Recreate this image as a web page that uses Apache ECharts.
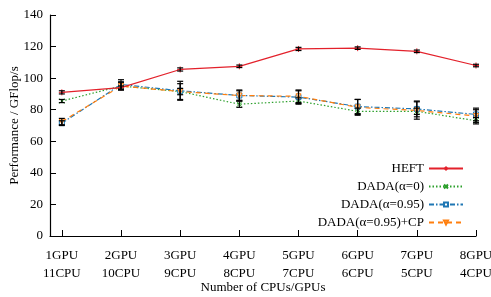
<!DOCTYPE html>
<html lang="en">
<head>
    <meta charset="UTF-8">
    <title>Performance</title>
    <script src="https://cdn.jsdelivr.net/npm/echarts@6/dist/echarts.min.js"></script>
    <style>
        body { margin: 0; padding: 0; background: #fff; }
        #box { width: 491px; height: 297px; }
    </style>
</head>
<body>
<div id="box"></div>
<script>
    // configurations (x positions 1..8)
    var gpus = ['1GPU', '2GPU', '3GPU', '4GPU', '5GPU', '6GPU', '7GPU', '8GPU'];
    var cpus = ['11CPU', '10CPU', '9CPU', '8CPU', '7CPU', '6CPU', '5CPU', '4CPU'];
    var yTicks = [0, 20, 40, 60, 80, 100, 120, 140];

    // mean performance (GFlop/s)
    var heft = [91, 94, 105.5, 107.5, 118.5, 119, 117, 108];
    var dada0 = [85.5, 95, 91.5, 83.5, 85.5, 79, 79, 73];
    var dada95 = [71.5, 96, 92, 89, 88, 82, 80.5, 77];
    var dadaCP = [72.5, 95, 91.5, 89, 88.5, 81.5, 79.5, 76];

    // error bar half widths
    var heftErr = [1, 1, 1, 0.8, 1, 0.8, 0.8, 0.8];
    var dada0Err = [1, 2.5, 2, 2, 2, 2, 2, 2];
    var dada95Err = [1.5, 3, 6, 3.5, 4, 4.5, 5, 4];
    var dadaCPErr = [2, 2.5, 5, 3, 4, 5, 5.5, 4];

    var names = ['HEFT', 'DADA(α=0)', 'DADA(α=0.95)', 'DADA(α=0.95)+CP'];
    var colors = ['#e3212b', '#2ca02c', '#1f77b4', '#ff7f0e'];

    var plusPath = 'path://M5,0 L5,10 M0,5 L10,5';
    var crossPath = 'path://M0,0 L10,10 M10,0 L0,10';

    function pts(arr) {
        return arr.map(function (v, i) { return [i + 1, v]; });
    }

    function errSeries(vals, errs) {
        return {
            type: 'custom',
            silent: true,
            z: 5,
            data: vals.map(function (v, i) { return [i + 1, v - errs[i], v + errs[i]]; }),
            renderItem: function (params, api) {
                var lo = api.coord([api.value(0), api.value(1)]);
                var hi = api.coord([api.value(0), api.value(2)]);
                var w = 3;
                var st = { stroke: '#000', lineWidth: 1.2 };
                return {
                    type: 'group',
                    children: [
                        { type: 'line', shape: { x1: lo[0], y1: lo[1], x2: hi[0], y2: hi[1] }, style: st },
                        { type: 'line', shape: { x1: lo[0] - w, y1: lo[1], x2: lo[0] + w, y2: lo[1] }, style: st },
                        { type: 'line', shape: { x1: hi[0] - w, y1: hi[1], x2: hi[0] + w, y2: hi[1] }, style: st }
                    ]
                };
            }
        };
    }

    var font = 'Liberation Serif';
    var myChart = echarts.init(document.getElementById('box'));
    var option = {
        animation: false,
        textStyle: { fontFamily: font },
        grid: { left: 50, right: 15, top: 15, bottom: 61, outerBoundsMode: 'none', containLabel: false },
        legend: {
            orient: 'vertical',
            right: 22,
            top: 157,
            align: 'right',
            itemWidth: 34,
            itemHeight: 5,
            itemGap: 5,
            textStyle: { fontFamily: font, fontSize: 13, color: '#000' },
            data: names
        },
        xAxis: {
            type: 'value',
            min: 0.8,
            max: 8,
            name: 'Number of CPUs/GPUs',
            nameLocation: 'middle',
            nameGap: 45,
            nameMoveOverlap: false,
            nameTextStyle: { fontFamily: font, fontSize: 13, color: '#000' },
            splitLine: { show: false },
            axisLine: { lineStyle: { color: '#000', width: 1.2 } },
            axisTick: { inside: true, length: 6, customValues: [1, 2, 3, 4, 5, 6, 7, 8], lineStyle: { color: '#000' } },
            axisLabel: {
                customValues: [1, 2, 3, 4, 5, 6, 7, 8],
                margin: 11,
                fontFamily: font,
                fontSize: 13,
                lineHeight: 17.5,
                color: '#000',
                formatter: function (v) {
                    var i = Math.round(v) - 1;
                    return gpus[i] + '\n' + cpus[i];
                }
            }
        },
        yAxis: {
            type: 'value',
            min: 0,
            max: 140,
            interval: 20,
            name: 'Performance / GFlop/s',
            nameLocation: 'middle',
            nameGap: 29,
            nameMoveOverlap: false,
            nameTextStyle: { fontFamily: font, fontSize: 13, color: '#000' },
            splitLine: { show: false },
            axisLine: { show: true, lineStyle: { color: '#000', width: 1.2 } },
            axisTick: { show: true, inside: true, length: 6, lineStyle: { color: '#000' } },
            axisLabel: {
                fontFamily: font, fontSize: 13, color: '#000', margin: 7,
                customValues: yTicks
            }
        },
        series: [
            {
                name: names[0], type: 'line', data: pts(heft), z: 4,
                symbol: plusPath, symbolSize: 6,
                lineStyle: { color: colors[0], width: 1.2 },
                itemStyle: { color: colors[0], borderColor: colors[0], borderWidth: 1 }
            },
            {
                name: names[1], type: 'line', data: pts(dada0), z: 3,
                symbol: crossPath, symbolSize: 5,
                lineStyle: { color: colors[1], width: 1.2, type: [1.5, 2] },
                itemStyle: { color: colors[1], borderColor: colors[1], borderWidth: 1 }
            },
            {
                name: names[2], type: 'line', data: pts(dada95), z: 3,
                symbol: 'rect', symbolSize: 5,
                lineStyle: { color: colors[2], width: 1.2, type: [5, 2, 1.5, 2] },
                itemStyle: { color: '#fff', borderColor: colors[2], borderWidth: 1 }
            },
            {
                name: names[3], type: 'line', data: pts(dadaCP), z: 3,
                symbol: 'triangle', symbolRotate: 180, symbolSize: 5,
                lineStyle: { color: colors[3], width: 1.2, type: [5, 4] },
                itemStyle: { color: '#fff', borderColor: colors[3], borderWidth: 1 }
            },
            errSeries(heft, heftErr),
            errSeries(dada0, dada0Err),
            errSeries(dada95, dada95Err),
            errSeries(dadaCP, dadaCPErr)
        ]
    };
    myChart.setOption(option);
</script>
</body>
</html>
